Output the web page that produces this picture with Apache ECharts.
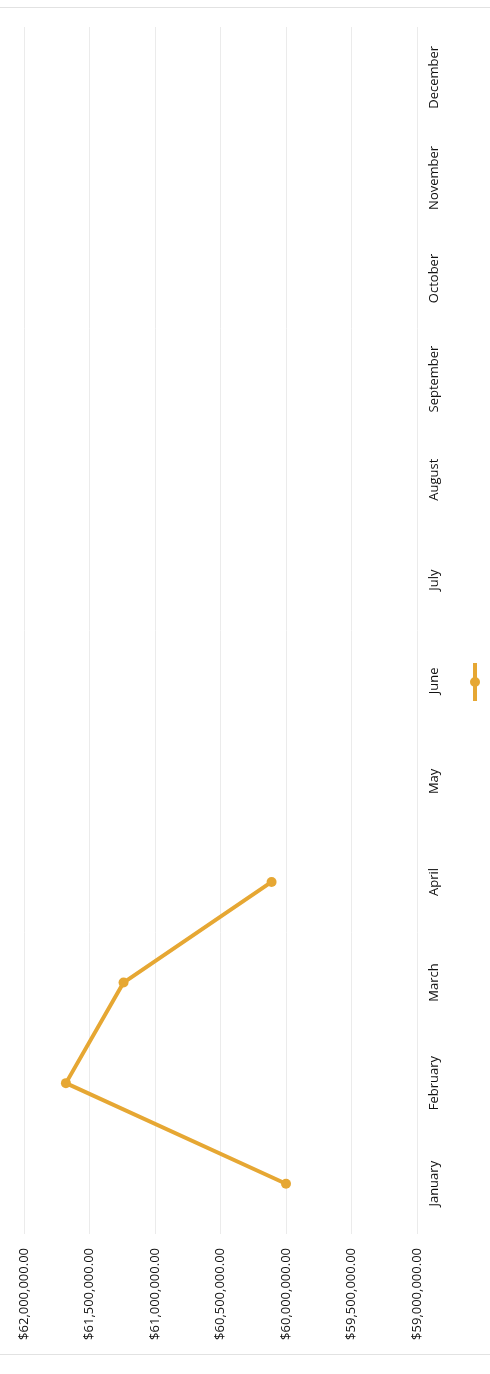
<!DOCTYPE html>
<html>
<head>
<meta charset="utf-8">
<script src="https://cdn.jsdelivr.net/npm/echarts@6/dist/echarts.min.js"></script>
<style>
  html, body { margin: 0; padding: 0; background: #ffffff; }
  #frame { position: absolute; left: 0; top: 7px; width: 490px; height: 1348px;
           border-top: 1px solid #e2e2e2; border-bottom: 1px solid #e2e2e2; box-sizing: border-box; }
  #chart { width: 490px; height: 1346px; }
</style>
</head>
<body>
<div id="frame"><div id="chart"></div></div>
<script>
const months = ['January', 'February', 'March', 'April', 'May', 'June',
                'July', 'August', 'September', 'October', 'November', 'December'];
const values = [60000000, 61680000, 61240000, 60110000];
const valueMin = 59000000;
const valueMax = 62000000;
const valueStep = 500000;

function money(v) {
  return '$' + Number(v).toLocaleString('en-US', { minimumFractionDigits: 2, maximumFractionDigits: 2 });
}

const gold = '#E6A733';
const chart = echarts.init(document.getElementById('chart'), null, { renderer: 'canvas' });
chart.setOption({
  animation: false,
  textStyle: { fontFamily: 'Open Sans' },
  grid: { left: 24, right: 73, top: 19, bottom: 120, containLabel: false },
  legend: {
    data: ['Series1'],
    left: 465, top: 650,
    itemWidth: 10, itemHeight: 38,
    icon: 'path://M3,0L7,0L7,38L3,38Z M5,14A5,5 0 1 1 4.99,14Z',
    formatter: function () { return ''; },
    itemGap: 0
  },
  xAxis: {
    type: 'value',
    min: valueMin, max: valueMax, interval: valueStep,
    inverse: true,
    position: 'bottom',
    axisLine: { show: false },
    axisTick: { show: false },
    splitLine: { show: true, lineStyle: { color: '#ebebeb', width: 1 } },
    axisLabel: {
      rotate: 90, margin: 14,
      formatter: money,
      color: '#111111', fontSize: 13, fontWeight: 500, fontFamily: 'Open Sans'
    }
  },
  yAxis: {
    type: 'category',
    data: months,
    position: 'right',
    boundaryGap: true,
    axisLine: { show: false },
    axisTick: { show: false },
    splitLine: { show: false },
    axisLabel: {
      rotate: 90, margin: 11,
      color: '#111111', fontSize: 13, fontWeight: 500, fontFamily: 'Open Sans'
    }
  },
  series: [{
    name: 'Series1',
    type: 'line',
    data: values,
    symbol: 'circle',
    symbolSize: 10,
    lineStyle: { color: gold, width: 4 },
    itemStyle: { color: gold }
  }]
});
</script>
</body>
</html>
